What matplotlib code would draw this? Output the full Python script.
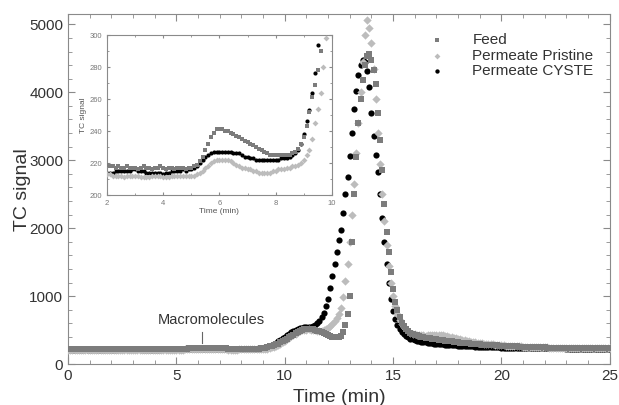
import numpy as np
import matplotlib
matplotlib.use("Agg")
import matplotlib.pyplot as plt
from matplotlib.ticker import MultipleLocator

plt.rcParams["font.family"] = ["Liberation Sans", "DejaVu Sans"]

# sampling grid of the chromatogram (min)
time_min = np.round(np.arange(0, 25.05, 0.1), 1)

feed = [
    219, 219, 220, 219, 219, 220, 219, 219, 218, 219,
    219, 220, 219, 219, 218, 219, 219, 220, 219, 219,
    219, 218, 218, 217, 218, 217, 217, 218, 217, 217,
    217, 216, 217, 218, 217, 217, 216, 217, 217, 218,
    217, 216, 217, 217, 216, 217, 217, 217, 216, 217,
    217, 218, 219, 221, 224, 228, 232, 236, 239, 241,
    241, 241, 240, 240, 239, 238, 237, 236, 235, 234,
    233, 232, 231, 230, 229, 228, 227, 226, 225, 225,
    225, 225, 225, 225, 225, 225, 226, 227, 229, 232,
    236, 243, 252, 261, 269, 278, 290, 303, 318, 335,
    355, 375, 395, 415, 435, 455, 472, 488, 500, 510,
    516, 520, 518, 512, 504, 494, 483, 470, 455, 440,
    425, 413, 404, 398, 396, 400, 420, 470, 580, 740,
    1000, 1800, 2500, 3050, 3550, 3900, 4180, 4400, 4530, 4560,
    4470, 4330, 4120, 3700, 3300, 2850, 2350, 1950, 1650, 1350,
    1100, 920, 790, 690, 610, 555, 515, 485, 462, 445,
    432, 421, 412, 404, 397, 391, 386, 381, 376, 371,
    366, 361, 356, 351, 346, 341, 337, 333, 329, 325,
    321, 317, 313, 310, 307, 304, 301, 298, 295, 292,
    290, 288, 286, 284, 282, 280, 278, 276, 274, 272,
    270, 268, 267, 265, 264, 262, 261, 259, 258, 257,
    256, 254, 253, 252, 251, 250, 249, 248, 247, 246,
    245, 244, 244, 243, 242, 241, 241, 240, 239, 239,
    238, 238, 237, 237, 236, 236, 235, 235, 234, 234,
    234, 233, 233, 233, 232, 232, 232, 231, 231, 231,
    230,
]

pristine = [
    212, 212, 213, 212, 212, 211, 212, 212, 213, 212,
    212, 212, 211, 212, 212, 213, 212, 212, 212, 211,
    213, 213, 212, 212, 212, 212, 211, 212, 212, 212,
    212, 212, 211, 211, 211, 211, 212, 212, 212, 212,
    211, 211, 211, 212, 212, 212, 212, 212, 212, 212,
    212, 212, 213, 214, 215, 217, 218, 220, 221, 222,
    222, 222, 222, 222, 221, 220, 219, 218, 217, 217,
    216, 216, 215, 215, 214, 214, 214, 214, 214, 215,
    215, 216, 216, 216, 217, 217, 218, 218, 219, 220,
    222, 225, 228, 235, 245, 254, 264, 280, 298, 318,
    340, 362, 385, 408, 430, 450, 468, 483, 495, 503,
    508, 510, 508, 503, 497, 492, 490, 492, 500, 515,
    535, 560, 590, 630, 680, 740, 830, 990, 1220, 1480,
    1800, 2200, 2650, 3100, 3550, 4000, 4450, 4850, 5060, 4950,
    4720, 4350, 3900, 3400, 2950, 2500, 2100, 1750, 1450, 1200,
    1000, 850, 730, 650, 590, 545, 510, 485, 465, 450,
    440, 434, 428, 424, 421, 420, 421, 424, 428, 432,
    434, 434, 431, 426, 419, 411, 403, 395, 387, 379,
    371, 364, 357, 350, 344, 338, 332, 326, 321, 316,
    311, 307, 303, 299, 295, 292, 289, 286, 283, 280,
    277, 275, 273, 271, 269, 267, 265, 263, 261, 260,
    258, 257, 255, 254, 253, 251, 250, 249, 248, 247,
    246, 245, 244, 243, 243, 242, 241, 240, 240, 239,
    238, 238, 237, 237, 236, 236, 235, 235, 234, 234,
    234, 233, 233, 233, 232, 232, 232, 231, 231, 231,
    230,
]

cyste = [
    214, 215, 214, 214, 215, 214, 213, 214, 215, 214,
    214, 214, 215, 214, 214, 213, 214, 214, 215, 214,
    214, 214, 214, 215, 215, 215, 215, 215, 215, 216,
    216, 215, 215, 215, 214, 214, 214, 214, 214, 214,
    213, 214, 214, 215, 215, 215, 215, 216, 215, 216,
    216, 217, 218, 220, 222, 224, 225, 226, 227, 227,
    227, 227, 227, 227, 227, 226, 226, 226, 225, 224,
    224, 223, 223, 222, 222, 222, 222, 222, 222, 222,
    222, 222, 223, 223, 223, 224, 225, 226, 228, 232,
    238, 246, 253, 264, 276, 294, 312, 333, 356, 380,
    405, 428, 450, 470, 488, 505, 518, 528, 536, 540,
    540, 540, 545, 555, 575, 600, 640, 690, 755, 850,
    960, 1120, 1300, 1480, 1650, 1820, 1980, 2230, 2500, 2750,
    3060, 3400, 3750, 4020, 4250, 4400, 4470, 4440, 4320, 4080,
    3700, 3350, 3080, 2820, 2500, 2150, 1800, 1480, 1200, 960,
    780, 660, 575, 515, 470, 438, 412, 392, 376, 362,
    350, 342, 335, 329, 324, 319, 314, 310, 306, 302,
    298, 295, 292, 289, 286, 283, 280, 278, 276, 274,
    272, 270, 268, 266, 264, 262, 260, 259, 257, 256,
    254, 253, 252, 251, 250, 249, 248, 247, 246, 245,
    244, 243, 242, 242, 241, 240, 240, 239, 238, 238,
    237, 237, 236, 236, 235, 235, 234, 234, 233, 233,
    233, 232, 232, 232, 231, 231, 231, 230, 230, 230,
    229, 229, 229, 229, 228, 228, 228, 228, 227, 227,
    227, 227, 227, 226, 226, 226, 226, 226, 225, 225,
    225,
]

SERIES = [
    # label, values, color, marker, size, zorder
    ("Feed", feed, "#7c7c7c", "s", 22, 4),
    ("Permeate Pristine", pristine, "#bcbcbc", "D", 18, 3),
    ("Permeate CYSTE", cyste, "#000000", "o", 20, 2),
]

TEXT_COLOR = "#333333"
FRAME_COLOR = "#8a8a8a"


def style_axes(ax, size, label_color, major_len, minor_len):
    for sp in ax.spines.values():
        sp.set_color(FRAME_COLOR)
        sp.set_linewidth(0.8)
    ax.tick_params(which="both", direction="in", top=True, right=True,
                   colors=FRAME_COLOR, labelcolor=label_color, labelsize=size)
    ax.tick_params(which="major", length=major_len, width=0.8)
    ax.tick_params(which="minor", length=minor_len, width=0.6)


fig = plt.figure(figsize=(6.19, 4.05), dpi=100)
ax = fig.add_axes([0.110, 0.101, 0.875, 0.864])

for label, vals, color, marker, size, z in SERIES:
    ax.scatter(time_min, vals, s=size, c=color, marker=marker,
               linewidths=0, label=label, zorder=z)

ax.set_xlim(0, 25)
ax.set_ylim(0, 5150)
ax.xaxis.set_major_locator(MultipleLocator(5))
ax.xaxis.set_minor_locator(MultipleLocator(1))
ax.yaxis.set_major_locator(MultipleLocator(1000))
ax.yaxis.set_minor_locator(MultipleLocator(200))
style_axes(ax, 11, TEXT_COLOR, 5, 3)
ax.set_xlabel("Time (min)", fontsize=14, color=TEXT_COLOR, labelpad=4)
ax.set_ylabel("TC signal", fontsize=14, color=TEXT_COLOR, labelpad=-1)

# small peak marker
ax.plot([6.2, 6.2], [310, 470], color="#666666", lw=0.8, zorder=5)
ax.text(6.6, 540, "Macromolecules", ha="center", va="bottom",
        fontsize=10.5, color=TEXT_COLOR)

leg = ax.legend(loc="upper left", bbox_to_anchor=(0.694, 0.918),
                bbox_transform=fig.transFigure, frameon=False, fontsize=11,
                handlelength=1.0, handletextpad=1.8, labelspacing=0.1,
                borderpad=0, borderaxespad=0, scatterpoints=1,
                markerscale=0.7)
for t in leg.get_texts():
    t.set_color(TEXT_COLOR)

# inset: zoom on the low-signal region
axin = fig.add_axes([0.173, 0.5185, 0.363, 0.395])
for label, vals, color, marker, size, z in SERIES:
    axin.scatter(time_min, vals, s=9, c=color, marker=marker,
                 linewidths=0, zorder=z)
axin.set_xlim(2, 10)
axin.set_ylim(200, 300)
axin.xaxis.set_major_locator(MultipleLocator(2))
axin.xaxis.set_minor_locator(MultipleLocator(1))
axin.yaxis.set_major_locator(MultipleLocator(20))
axin.yaxis.set_minor_locator(MultipleLocator(10))
style_axes(axin, 5.5, "#777777", 2.5, 1.5)
axin.set_xlabel("Time (min)", fontsize=6, color="#555555", labelpad=1)
axin.set_ylabel("TC signal", fontsize=6, color="#555555", labelpad=2)

fig.savefig("out.png", dpi=100)
